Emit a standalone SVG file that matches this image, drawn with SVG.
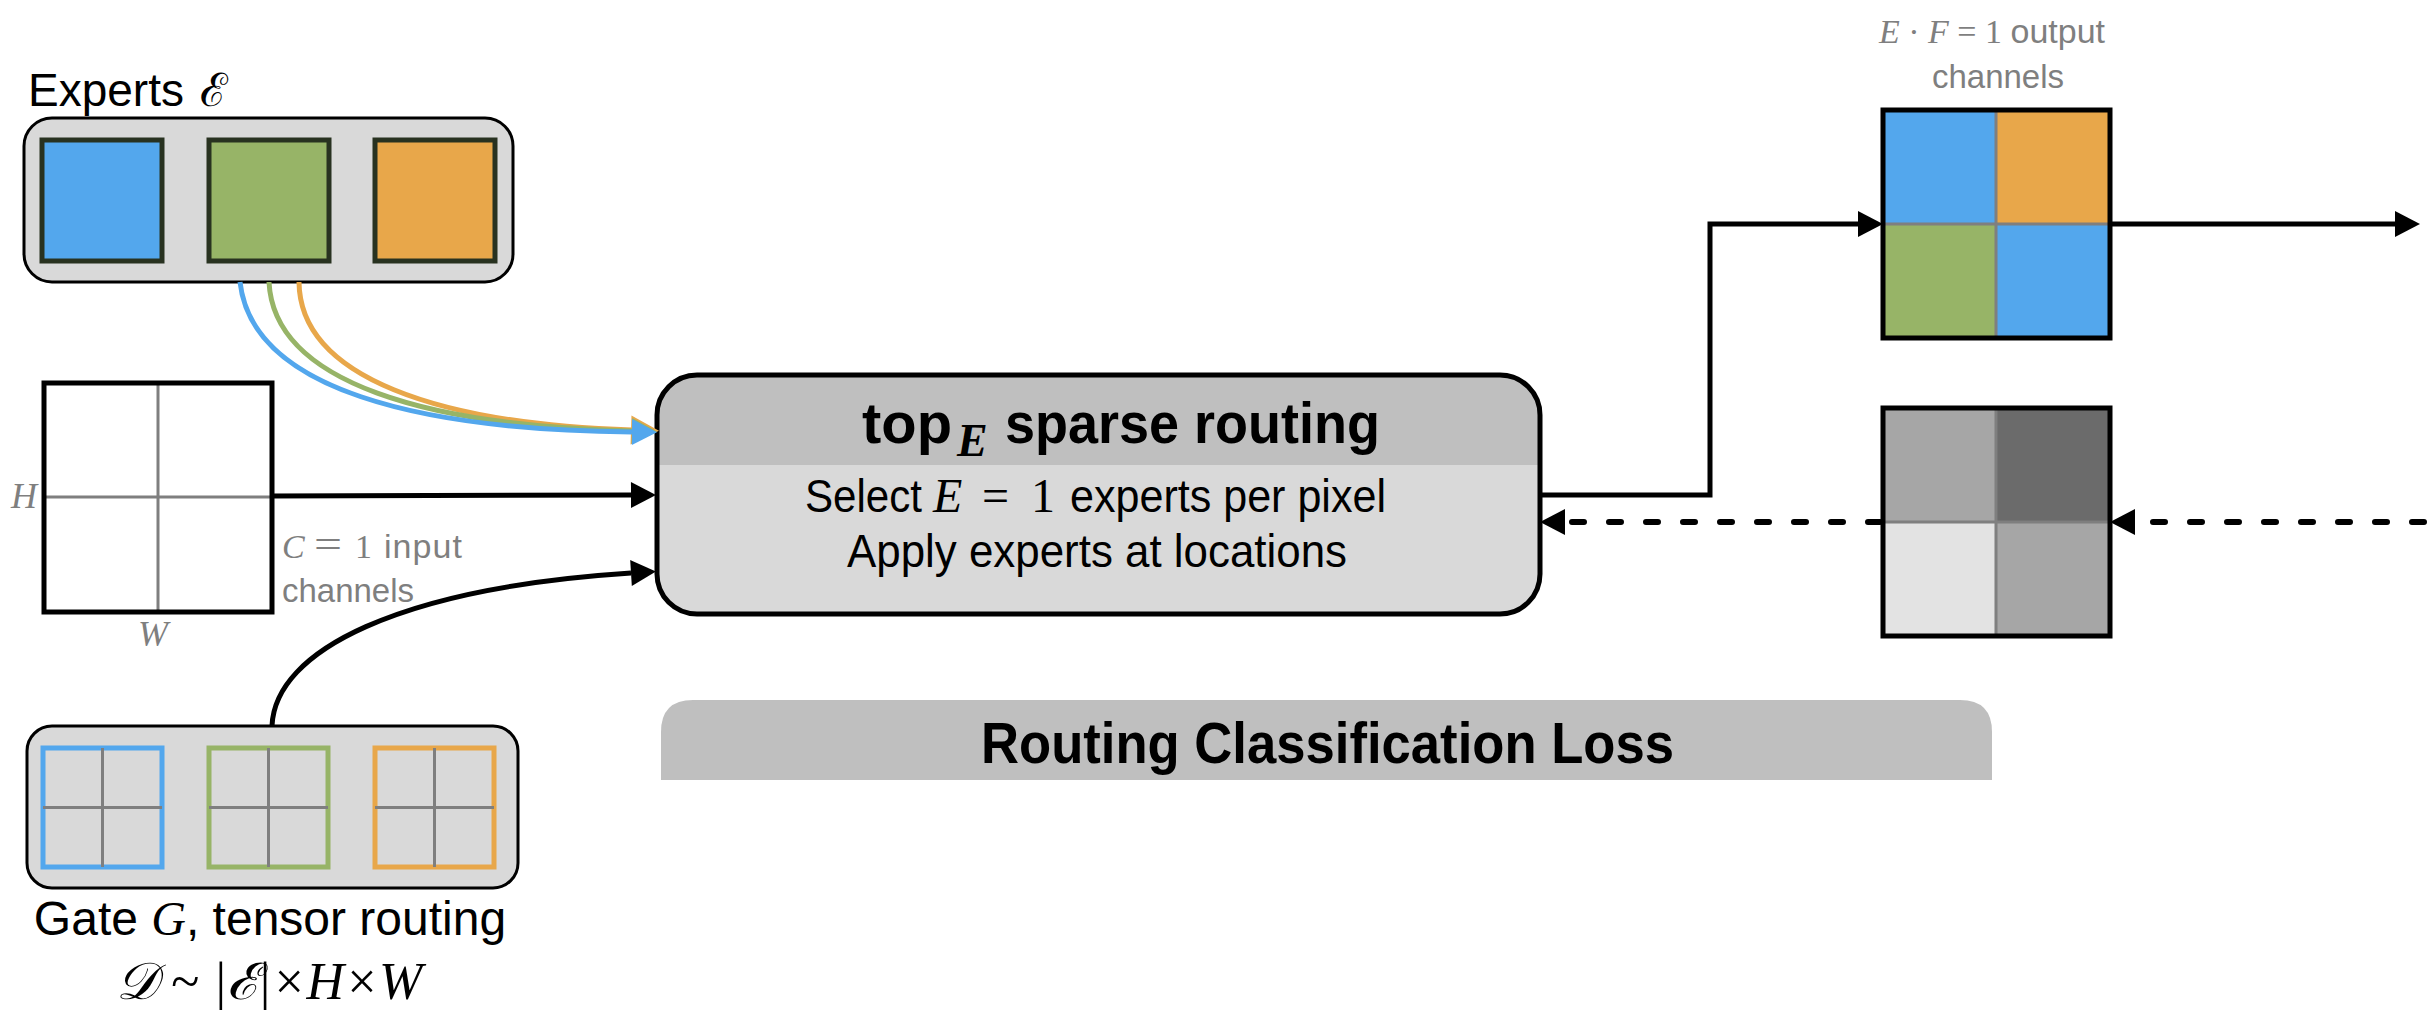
<svg xmlns="http://www.w3.org/2000/svg" width="2433" height="1015" viewBox="0 0 2433 1015">
<style>
.sans{font-family:"Liberation Sans",Arial,sans-serif;}
.bold{font-weight:bold;}
.math{font-family:"Liberation Serif","DejaVu Serif",serif;font-style:italic;}
.mathr{font-family:"Liberation Serif","DejaVu Serif",serif;}
.gray{fill:#7f7f7f;}
.grp{fill:#d9d9d9;stroke:#000;stroke-width:3;}
.exp{stroke:#283220;stroke-width:5;}
.grid{stroke:#7f7f7f;stroke-width:3;fill:none;}
.conn{fill:none;stroke:#000;stroke-width:5;}
.dash{fill:none;stroke:#000;stroke-width:6;stroke-dasharray:12 25;stroke-linecap:round;}
</style>
<defs>
<marker id="ah" markerUnits="userSpaceOnUse" markerWidth="26" markerHeight="26" refX="0" refY="13" orient="auto" overflow="visible"><path d="M0,0 L25,13 L0,26 Z" fill="#000"/></marker>
<marker id="ahb" markerUnits="userSpaceOnUse" markerWidth="26" markerHeight="26" refX="0" refY="13" orient="auto" overflow="visible"><path d="M0,0 L25,13 L0,26 Z" fill="#53a7ed"/></marker>
<marker id="ahg" markerUnits="userSpaceOnUse" markerWidth="26" markerHeight="26" refX="0" refY="13" orient="auto" overflow="visible"><path d="M0,0 L25,13 L0,26 Z" fill="#97b467"/></marker>
<marker id="aho" markerUnits="userSpaceOnUse" markerWidth="26" markerHeight="26" refX="0" refY="13" orient="auto" overflow="visible"><path d="M-1,-1.5 L27,13 L-1,27.5 Z" fill="#e8a74a"/></marker>
</defs>
<rect width="2433" height="1015" fill="#fff"/>

<g id="experts">
<text class="sans" x="28" y="106" font-size="46">Experts</text>
<text class="mathr" x="200" y="106" font-size="46">ℰ</text>
<rect class="grp" x="24" y="118" width="489" height="164" rx="28"/>
<rect class="exp" x="42" y="140" width="120" height="121" fill="#53a7ed"/>
<rect class="exp" x="209" y="140" width="120" height="121" fill="#97b467"/>
<rect class="exp" x="375" y="140" width="120" height="121" fill="#e8a74a"/>
</g>

<g id="input">
<rect x="44" y="383" width="228" height="229" fill="#fff"/>
<line class="grid" x1="158" y1="383" x2="158" y2="612"/>
<line class="grid" x1="44" y1="497" x2="272" y2="497"/>
<rect x="44" y="383" width="228" height="229" fill="none" stroke="#000" stroke-width="5"/>
<text class="math gray" x="11" y="508" font-size="36">H</text>
<text class="math gray" x="138" y="646" font-size="36">W</text>
<text class="math gray" x="282" y="558" font-size="34">C</text>
<text class="mathr gray" x="314" y="558" font-size="40" textLength="28" lengthAdjust="spacingAndGlyphs">=</text>
<text class="mathr gray" x="355" y="558" font-size="34">1</text>
<text class="sans gray" x="384" y="558" font-size="34" textLength="78">input</text>
<text class="sans gray" x="282" y="602" font-size="33" textLength="132">channels</text>
</g>

<g id="gate">
<rect class="grp" x="27" y="726" width="491" height="162" rx="25"/>
<rect x="43" y="748" width="119" height="119" fill="#d9d9d9" stroke="#53a7ed" stroke-width="5"/>
<path class="grid" d="M102.5,748 V867 M43,807.5 H162"/>
<rect x="209" y="748" width="119" height="119" fill="#d9d9d9" stroke="#97b467" stroke-width="5"/>
<path class="grid" d="M268.5,748 V867 M209,807.5 H328"/>
<rect x="375" y="748" width="119" height="119" fill="#d9d9d9" stroke="#e8a74a" stroke-width="5"/>
<path class="grid" d="M434.5,748 V867 M375,807.5 H494"/>
<text class="sans" x="270" y="935" font-size="48" text-anchor="middle">Gate <tspan class="math">G</tspan>, tensor routing</text>
<text class="math" x="269" y="999" font-size="52" text-anchor="middle">𝒟<tspan class="mathr" dx="14">~</tspan><tspan class="mathr" dx="14">|ℰ|×</tspan>H<tspan class="mathr">×</tspan>W</text>
</g>

<g id="router">
<rect x="657" y="375" width="883" height="239" rx="40" fill="#d9d9d9"/>
<path d="M657,465 V415 Q657,375 697,375 H1500 Q1540,375 1540,415 V465 Z" fill="#bfbfbf"/>
<rect x="657" y="375" width="883" height="239" rx="40" fill="none" stroke="#000" stroke-width="5"/>
<text class="sans bold" x="862" y="443" font-size="58" textLength="90" lengthAdjust="spacingAndGlyphs">top</text>
<text class="math bold" x="957" y="456" font-size="46">E</text>
<text class="sans bold" x="1005" y="443" font-size="58" textLength="375" lengthAdjust="spacingAndGlyphs">sparse routing</text>
<text class="sans" x="805" y="512" font-size="46" textLength="117" lengthAdjust="spacingAndGlyphs">Select</text>
<text class="math" x="933" y="512" font-size="48">E</text>
<text class="mathr" x="982" y="512" font-size="48">=</text>
<text class="mathr" x="1031" y="512" font-size="48">1</text>
<text class="sans" x="1070" y="512" font-size="46" textLength="316" lengthAdjust="spacingAndGlyphs">experts per pixel</text>
<text class="sans" x="847" y="567" font-size="46" textLength="500" lengthAdjust="spacingAndGlyphs">Apply experts at locations</text>
</g>

<g id="loss">
<path d="M661,780 V732 Q661,700 693,700 H1960 Q1992,700 1992,732 V780 Z" fill="#bfbfbf"/>
<text class="sans bold" x="981" y="763" font-size="58" textLength="693" lengthAdjust="spacingAndGlyphs">Routing Classification Loss</text>
</g>

<g id="output">
<text x="1992" y="43" font-size="34" text-anchor="middle" class="gray"><tspan class="math">E</tspan><tspan class="mathr"> · </tspan><tspan class="math">F</tspan><tspan class="mathr"> = 1 </tspan><tspan class="sans">output</tspan></text>
<text class="sans gray" x="1998" y="88" font-size="33" text-anchor="middle">channels</text>
<rect x="1883" y="110" width="113" height="114" fill="#53a7ed"/>
<rect x="1996" y="110" width="114" height="114" fill="#e8a74a"/>
<rect x="1883" y="224" width="113" height="114" fill="#97b467"/>
<rect x="1996" y="224" width="114" height="114" fill="#53a7ed"/>
<path class="grid" d="M1996,110 V338 M1883,224 H2110"/>
<rect x="1883" y="110" width="227" height="228" fill="none" stroke="#000" stroke-width="5"/>
</g>

<g id="labels">
<rect x="1883" y="408" width="113" height="114" fill="#a6a6a6"/>
<rect x="1996" y="408" width="114" height="114" fill="#6b6b6b"/>
<rect x="1883" y="522" width="113" height="114" fill="#e3e3e3"/>
<rect x="1996" y="522" width="114" height="114" fill="#a6a6a6"/>
<path class="grid" d="M1996,408 V636 M1883,522 H2110"/>
<rect x="1883" y="408" width="227" height="228" fill="none" stroke="#000" stroke-width="5"/>
</g>

<g id="connectors">
<path d="M299,282 C300,378 440,424 632,430" fill="none" stroke="#e8a74a" stroke-width="5" marker-end="url(#aho)"/>
<path d="M269,282 C274,384 430,426 632,431" fill="none" stroke="#97b467" stroke-width="5" marker-end="url(#ahg)"/>
<path d="M240,282 C252,390 420,430 632,432" fill="none" stroke="#53a7ed" stroke-width="5" marker-end="url(#ahb)"/>
<path class="conn" d="M272,496 L631,495" marker-end="url(#ah)"/>
<path class="conn" d="M272,726 C275,650 400,588 631,573" marker-end="url(#ah)"/>
<path class="conn" d="M1540,495 H1710 V224 H1858" marker-end="url(#ah)"/>
<path class="conn" d="M2110,224 H2395" marker-end="url(#ah)"/>
<path class="dash" d="M2424,522 H2135" marker-end="url(#ah)"/>
<path class="dash" d="M1880,522 H1565" marker-end="url(#ah)"/>
</g>
</svg>
